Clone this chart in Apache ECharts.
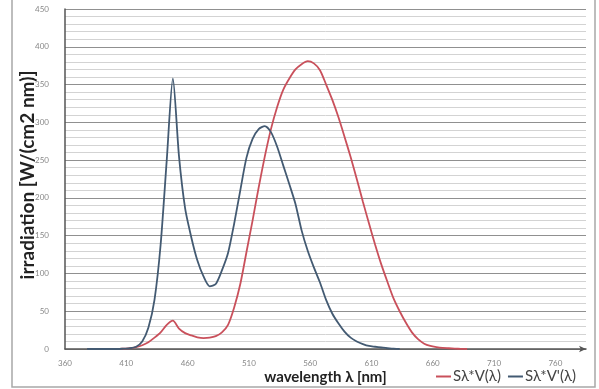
<!DOCTYPE html>
<html>
<head>
<meta charset="utf-8">
<script src="https://cdn.jsdelivr.net/npm/echarts@6/dist/echarts.min.js"></script>
<style>
  html, body { margin: 0; padding: 0; background: #fff; }
  #chart { width: 599px; height: 389px; }
</style>
</head>
<body>
<div id="chart"></div>
<script>
// wavelength samples [nm]
const wavelengths = [
  378, 383, 388, 393, 398, 403, 408, 413, 418, 423, 428, 433, 438, 443, 448,
  453, 458, 463, 468, 473, 478, 483, 488, 493, 498, 503, 508, 513, 518, 523,
  528, 533, 538, 543, 548, 553, 558, 563, 568, 573, 578, 583, 588, 593, 598,
  603, 608, 613, 618, 623, 628, 633, 638, 643, 648, 653, 658, 663, 668, 673,
  678, 683, 688
];

// Sλ*V(λ)
const photopic = [
  0, 0, 0, 0, 0, 0, 0.5, 1, 2.5, 5, 9, 15, 22, 32, 37.5,
  27, 21, 18, 15.5, 14.5, 15, 17, 22, 32, 55, 86, 128, 170, 214, 255,
  291, 320, 343, 358, 370, 377, 381, 378, 369, 350, 330, 307, 281, 254, 225,
  195, 166, 138, 112, 89, 67, 50, 35, 22, 13, 7, 4, 2.5, 1.5, 1,
  0.5, 0.2, 0
];

// Sλ*V'(λ)
const scotopic = [
  0, 0, 0, 0, 0, 0, 0.5, 1, 3, 10, 28, 65, 138, 250, 358,
  255, 186, 148, 117, 96, 83, 86, 104, 127, 166, 210, 253, 278, 291, 295,
  287, 268, 243, 218, 192, 157, 130, 108, 88, 65, 47, 34, 23, 15, 10,
  6.5, 4, 3, 2, 1, 0.5, 0, null, null, null, null, null, null, null, null,
  null, null, null
];

const seriesNames = ["Sλ*V(λ)", "Sλ*V'(λ)"];
const yTicks = { min: 0, max: 450, step: 50 };
const xTicks = { min: 360, max: 785, step: 50 };

const chart = echarts.init(document.getElementById("chart"));
const font = "Lato, 'Liberation Sans', sans-serif";

chart.setOption({
  backgroundColor: "#fff",
  animation: false,
  textStyle: { fontFamily: font },
  graphic: [
    {
      type: "rect",
      shape: { x: 12, y: -2, width: 583, height: 389 },
      style: { fill: "none", stroke: "#a8a8a8", lineWidth: 1.5 },
      silent: true,
    },
  ],
  grid: { left: 65, right: 13, top: 9, bottom: 40, outerBoundsMode: "none" },
  legend: {
    right: 18,
    bottom: 0,
    icon: "rect",
    itemWidth: 15,
    itemHeight: 2,
    itemGap: 7,
    textStyle: { fontSize: 15, color: "#444", fontFamily: font, padding: [0, 0, 0, -3] },
    data: seriesNames,
  },
  xAxis: {
    type: "value",
    min: xTicks.min,
    max: xTicks.max,
    interval: xTicks.step,
    name: "wavelength λ [nm]",
    nameLocation: "middle",
    nameGap: 21,
    nameMoveOverlap: false,
    nameTextStyle: { fontSize: 15, fontWeight: "bold", color: "#222" },
    axisLine: {
      lineStyle: { color: "#555", width: 1.5 },
      symbol: ["none", "arrow"],
      symbolSize: [5, 7],
    },
    axisTick: { show: false },
    axisLabel: { fontSize: 8, color: "#888", margin: 10, showMaxLabel: false },
    splitLine: { show: false },
  },
  yAxis: {
    type: "value",
    min: yTicks.min,
    max: yTicks.max,
    interval: yTicks.step,
    name: "irradiation [W/(cm2 nm)]",
    nameLocation: "middle",
    nameGap: 28,
    nameMoveOverlap: false,
    nameTextStyle: { fontSize: 19, fontWeight: "bold", color: "#222", padding: [0, 0, 0, 8] },
    axisLine: {
      show: true,
      lineStyle: { color: "#555", width: 1.5 },
    },
    axisTick: { show: false },
    axisLabel: { fontSize: 8, color: "#888", margin: 16 },
    splitLine: { lineStyle: { color: "#909090", width: 1.2 } },
    minorTick: { show: false, splitNumber: 5 },
    minorSplitLine: { show: true, lineStyle: { color: "#d3d3d3", width: 1 } },
  },
  series: [
    {
      name: seriesNames[0],
      type: "line",
      data: wavelengths.map((w, i) => [w, photopic[i]]),
      showSymbol: false,
      smooth: 0.25,
      lineStyle: { color: "#c9505b", width: 1.8 },
      itemStyle: { color: "#c9505b" },
    },
    {
      name: seriesNames[1],
      type: "line",
      data: wavelengths.map((w, i) => [w, scotopic[i]]),
      showSymbol: false,
      smooth: 0.25,
      connectNulls: false,
      lineStyle: { color: "#435a72", width: 1.8 },
      itemStyle: { color: "#435a72" },
    },
  ],
});
</script>
</body>
</html>
